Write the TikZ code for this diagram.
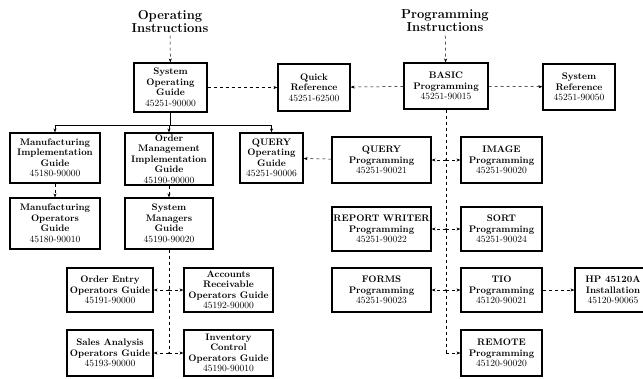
\documentclass[tikz,border=0pt]{standalone}
\usepackage{xcolor}
\usetikzlibrary{calc,positioning,arrows.meta}

\begin{document}
\begin{tikzpicture}[x=1pt,y=-1pt,black,
		doc/.style={draw,line width=1.2pt,align=center,inner sep=0.5pt,font=\fontsize{9.5}{10.5}\selectfont\bfseries},
		head/.style={align=center,font=\fontsize{13}{13}\selectfont\bfseries},
		link/.style={-{Stealth[length=4pt,width=3pt]},dashed,line width=0.5pt},
		tie/.style={-{Stealth[length=4pt,width=3pt]},line width=0.5pt},
		trunk/.style={dashed,line width=0.5pt}]
				\useasboundingbox (0,0) rectangle (643,378);
				% Headings
				\node[head] (opi) at (170,21) {Operating\\Instructions};
				\node[head] (pri) at (445,21) {Programming\\Instructions};

				% Top row
				\node[doc,minimum width=73pt,minimum height=49pt] (sog) at (170.5,87.5) {System\\Operating\\Guide\\\mdseries 45251-90000};
				\node[doc,minimum width=72pt,minimum height=47pt] (qref) at (314,87.5) {Quick\\Reference\\\mdseries 45251-62500};
				\node[doc,minimum width=84pt,minimum height=46pt] (basic) at (446,86) {BASIC\\Programming\\\mdseries 45251-90015};
				\node[doc,minimum width=72pt,minimum height=46pt] (sref) at (579,87) {System\\Reference\\\mdseries 45251-90050};

				% Operating side
				\node[doc,minimum width=90pt,minimum height=50pt] (mig) at (55,158) {Manufacturing\\Implementation\\Guide\\\mdseries 45180-90000};
				\node[doc,minimum width=88pt,minimum height=52pt] (omig) at (169,159) {Order\\Management\\Implementation\\Guide\\\mdseries 45190-90000};
				\node[doc,minimum width=63pt,minimum height=50pt] (qog) at (271.5,158) {QUERY\\Operating\\Guide\\\mdseries 45251-90006};
				\node[doc,minimum width=90pt,minimum height=51pt] (mog) at (55,223.5) {Manufacturing\\Operators\\Guide\\\mdseries 45180-90010};
				\node[doc,minimum width=88pt,minimum height=51pt] (smg) at (169,223.5) {System\\Managers\\Guide\\\mdseries 45190-90020};
				\node[doc,minimum width=86pt,minimum height=44pt] (oe) at (110,290) {Order Entry\\Operators Guide\\\mdseries 45191-90000};
				\node[doc,minimum width=89pt,minimum height=44pt] (ar) at (228.5,290) {Accounts\\Receivable\\Operators Guide\\\mdseries 45192-90000};
				\node[doc,minimum width=86pt,minimum height=46pt] (sa) at (110,353) {Sales Analysis\\Operators Guide\\\mdseries 45193-90000};
				\node[doc,minimum width=89pt,minimum height=46pt] (ic) at (228.5,353) {Inventory\\Control\\Operators Guide\\\mdseries 45190-90010};

				% Programming side
				\node[doc,minimum width=99pt,minimum height=46pt] (qp) at (381.5,160) {QUERY\\Programming\\\mdseries 45251-90021};
				\node[doc,minimum width=81pt,minimum height=46pt] (ip) at (501.5,160) {IMAGE\\Programming\\\mdseries 45251-90020};
				\node[doc,minimum width=99pt,minimum height=44pt] (rw) at (381.5,229) {REPORT WRITER\\Programming\\\mdseries 45251-90022};
				\node[doc,minimum width=81pt,minimum height=44pt] (sp) at (501.5,229) {SORT\\Programming\\\mdseries 45251-90024};
				\node[doc,minimum width=99pt,minimum height=44pt] (fp) at (381.5,290) {FORMS\\Programming\\\mdseries 45251-90023};
				\node[doc,minimum width=81pt,minimum height=44pt] (tio) at (501.5,290) {TIO\\Programming\\\mdseries 45120-90021};
				\node[doc,minimum width=76pt,minimum height=44pt] (hp) at (613,290) {HP 45120A\\Installation\\\mdseries 45120-90065};
				\node[doc,minimum width=81pt,minimum height=46pt] (rp) at (501.5,353) {REMOTE\\Programming\\\mdseries 45120-90020};

				% Points
				\coordinate (bus) at (170.5,125);
				\coordinate (busL) at ($(mig.north |- bus)$);
				\coordinate (busM) at ($(omig.north |- bus)$);
				\coordinate (busR) at ($(qog.north |- bus)$);
				\coordinate (oj1) at ($(smg.south |- oe.east)$);
				\coordinate (oj2) at ($(smg.south |- sa.east)$);
				\coordinate (pj1) at ($(basic.south |- qp.east)$);
				\coordinate (pj2) at ($(basic.south |- rw.east)$);
				\coordinate (pj3) at ($(basic.south |- fp.east)$);
				\coordinate (pj4) at ($(basic.south |- rp.west)$);

				% Top links
				\draw[link] (opi) -- (sog);
				\draw[link] (pri) -- (basic);
				\draw[link] (sog) -- (qref);
				\draw[link] (basic) -- (qref);
				\draw[link] (basic) -- (sref);

				% Operating tree
				\draw[line width=0.5pt] (sog) -- (bus);
				\draw[line width=0.5pt] (busL) -- (busR);
				\draw[tie] (busL) -- (mig);
				\draw[tie] (busM) -- (omig);
				\draw[tie] (busR) -- (qog);
				\draw[link] (mig) -- (mog);
				\draw[link] (omig) -- (smg);
				\draw[trunk] (smg) -- (oj2);
				\foreach \j/\a/\b in {oj1/oe/ar,oj2/sa/ic}{
					\fill (\j) circle (1pt);
					\draw[link] (\j) -- (\a);
					\draw[link] (\j) -- (\b);
				}

				% Programming tree
				\draw[trunk] (basic) -- (pj4);
				\foreach \j/\a/\b in {pj1/qp/ip,pj2/rw/sp,pj3/fp/tio}{
					\fill (\j) circle (1pt);
					\draw[link] (\j) -- (\a);
					\draw[link] (\j) -- (\b);
				}
				\draw[link] (pj4) -- (rp);
				\draw[link] (qp) -- (qog);
				\draw[link] (tio) -- (hp);
			\end{tikzpicture}
\end{document}
